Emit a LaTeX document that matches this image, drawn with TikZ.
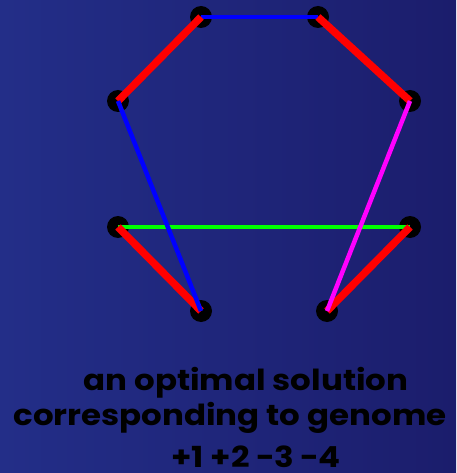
\documentclass[tikz,border=0pt]{standalone}
\usepackage{fontspec}
\setmainfont{Poppins}[BoldFont={* Bold}]
\definecolor{bgleft}{RGB}{35,46,136}
\definecolor{bgright}{RGB}{27,29,108}
\definecolor{mag}{RGB}{255,0,255}
\definecolor{grn}{RGB}{0,255,0}
\definecolor{blu}{RGB}{0,0,255}
\begin{document}
\begin{tikzpicture}[x=1pt,y=-1pt,
  vtx/.style={circle,fill=black,inner sep=0pt,minimum size=22pt},
  redge/.style={red,line width=7.5pt},
  tedge/.style={line width=4.5pt},
  lbl/.style={font=\bfseries\fontsize{29}{32}\selectfont,text=black,inner sep=0pt,anchor=base,xscale=1.12}]
\shade[left color=bgleft,right color=bgright] (0,0) rectangle (456,473);
\useasboundingbox (0,0) rectangle (456,473);
\node[vtx] (a) at (201,17) {};
\node[vtx] (b) at (318,17) {};
\node[vtx] (c) at (118,101) {};
\node[vtx] (d) at (410,101) {};
\node[vtx] (e) at (118,227) {};
\node[vtx] (f) at (410,227) {};
\node[vtx] (g) at (201,311) {};
\node[vtx] (h) at (327,311) {};
\draw[tedge,blu] (a.center) -- (b.center);
\draw[redge] (a.center) -- (c.center);
\draw[redge] (b.center) -- (d.center);
\draw[tedge,grn] (e.center) -- (f.center);
\draw[redge] (e.center) -- (g.center);
\draw[redge] (f.center) -- (h.center);
\draw[tedge,blu] (c.center) -- (g.center);
\draw[tedge,mag] (d.center) -- (h.center);
\node[lbl] (t1) at (246,390) {an optimal solution};
\node[lbl] (t2) at (230,425) {corresponding to genome};
\node[lbl] (t3) at (256,467) {+1 +2 −3 −4};
\end{tikzpicture}
\end{document}
